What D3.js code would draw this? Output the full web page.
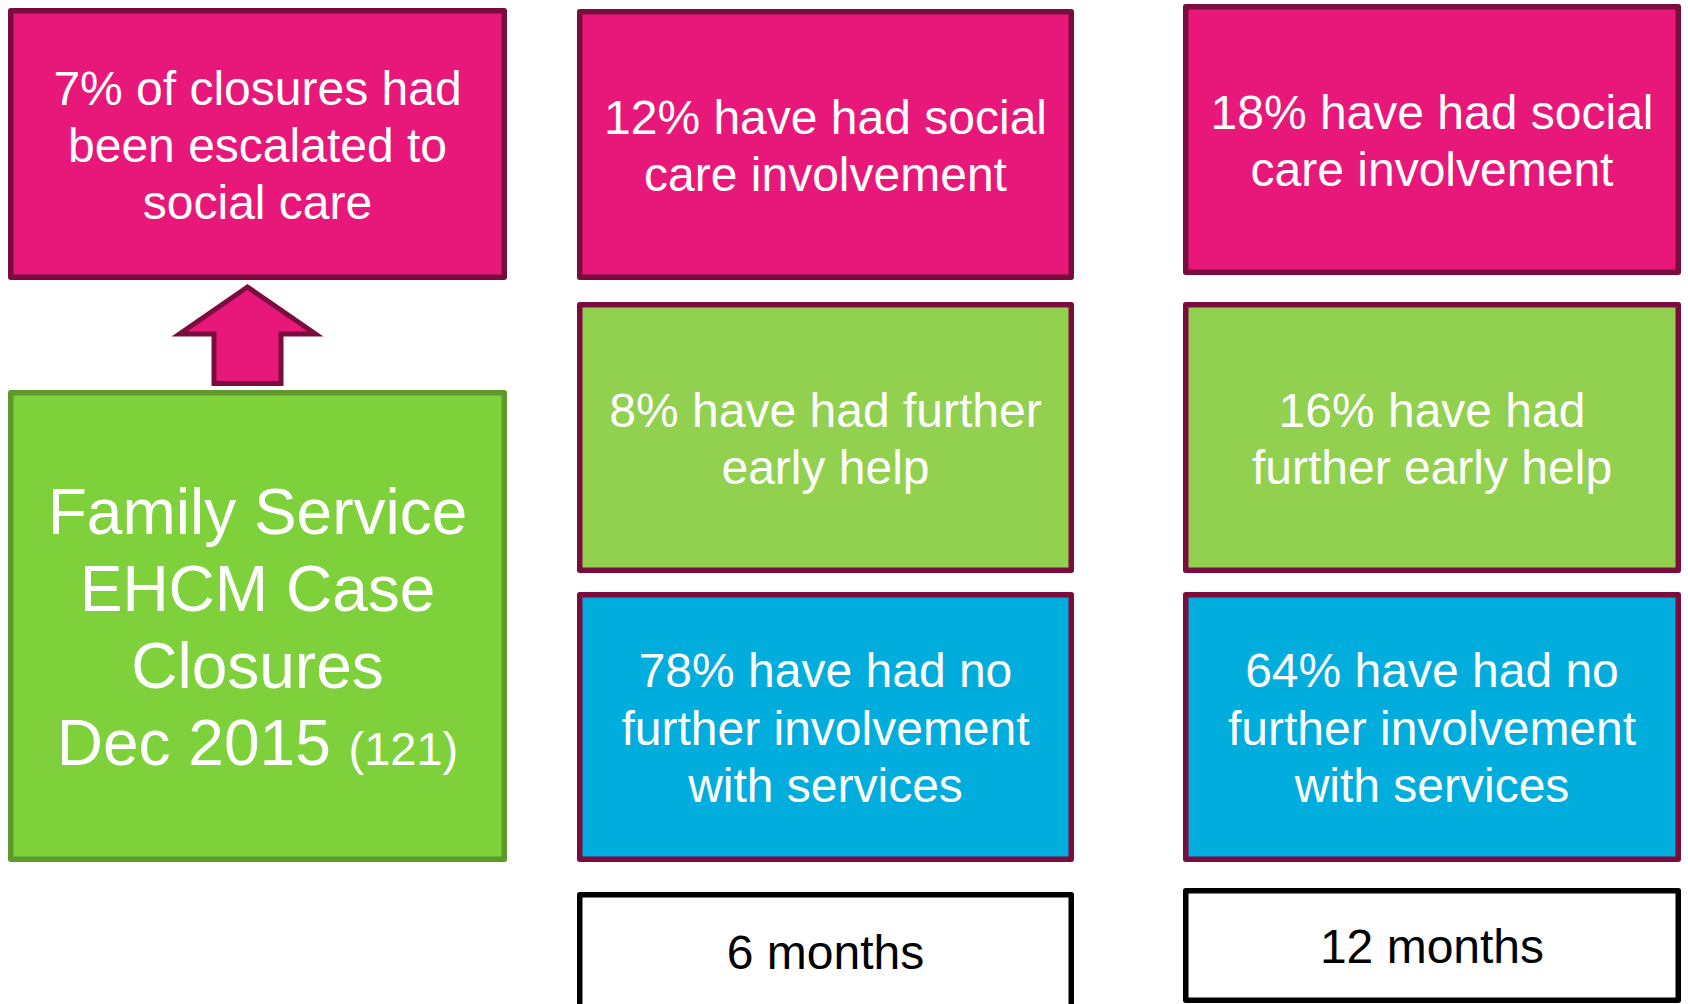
<!DOCTYPE html>
<html>
<head>
<meta charset="utf-8">
<script src="https://cdn.jsdelivr.net/npm/d3@7"></script>
<style>
  html, body { margin: 0; padding: 0; background: #fff; }
  svg { display: block; }
  text { font-family: "Liberation Sans", Arial, sans-serif; }
</style>
</head>
<body>
<svg id="chart" width="1688" height="1004"></svg>
<script>
// ---- data ----
const columns = ["Dec 2015", "6 months", "12 months"];
const socialCarePct = [7, 12, 18];
const earlyHelpPct = [null, 8, 16];
const noFurtherPct = [null, 78, 64];
const caseCount = 121;
const sourceLines = ["Family Service", "EHCM Case", "Closures", "Dec 2015"];
const escalatedLines = ["% of closures had", "been escalated to", "social care"];
const socialLines6 = ["% have had social", "care involvement"];
const socialLines12 = ["% have had social", "care involvement"];
const earlyLines6 = ["% have had further", "early help"];
const earlyLines12 = ["% have had", "further early help"];
const noFurtherLines = ["% have had no", "further involvement", "with services"];
const periodLabels = ["6 months", "12 months"];

// ---- scales (layout) ----
const colLeft = d3.scaleOrdinal().domain(columns).range([8, 577, 1183]);
const colRight = d3.scaleOrdinal().domain(columns).range([507, 1074, 1681]);
const rows = ["social", "early", "none", "period"];
const rowTop6 = d3.scaleOrdinal().domain(rows).range([9, 302, 592, 892]);
const rowBot6 = d3.scaleOrdinal().domain(rows).range([280, 573, 862, 1010]);
const rowTop12 = d3.scaleOrdinal().domain(rows).range([4, 302, 592, 888]);
const rowBot12 = d3.scaleOrdinal().domain(rows).range([275, 573, 862, 1003]);

const PINK = "#E8187A", MAROON = "#7A0C3E";
const GREEN_L = "#7FD13B", GREEN_L_B = "#5E9A2B";
const GREEN = "#92D050", BLUE = "#00ADDC";
const SW = 5.5;

const svg = d3.select("#chart");

function box(x0, y0, x1, y1, fill, stroke) {
  svg.append("rect")
    .attr("x", x0 + SW / 2).attr("y", y0 + SW / 2)
    .attr("width", x1 - x0 - SW).attr("height", y1 - y0 - SW)
    .attr("fill", fill).attr("stroke", stroke).attr("stroke-width", SW)
    .attr("stroke-linejoin", "round");
}
function label(lines, x0, x1, y0, y1, fs, lh, color) {
  const cx = (x0 + x1) / 2, cy = (y0 + y1) / 2;
  const n = lines.length;
  const t = svg.append("text").attr("text-anchor", "middle")
    .attr("fill", color).attr("font-size", fs);
  lines.forEach((l, i) => {
    const tsp = t.append("tspan").attr("x", cx)
      .attr("y", cy + (i - (n - 1) / 2) * lh + 0.37 * fs);
    if (typeof l === "string") tsp.text(l);
    else l(tsp);
  });
  return t;
}

// ---- left column ----
const c0 = columns[0];
const lx0 = colLeft(c0), lx1 = colRight(c0);
box(lx0, 8, lx1, 280, PINK, MAROON);
label([socialCarePct[0] + escalatedLines[0], escalatedLines[1], escalatedLines[2]],
  lx0, lx1, 8, 280, 48, 57, "#fff");

// arrow
const acx = (lx0 + lx1) / 2 - 10;
const arrow = d3.path();
arrow.moveTo(acx, 287);
arrow.lineTo(acx + 68, 334);
arrow.lineTo(acx + 33.5, 334);
arrow.lineTo(acx + 33.5, 383.5);
arrow.lineTo(acx - 33.5, 383.5);
arrow.lineTo(acx - 33.5, 334);
arrow.lineTo(acx - 68, 334);
arrow.closePath();
svg.append("path").attr("d", arrow.toString())
  .attr("fill", PINK).attr("stroke", MAROON).attr("stroke-width", 5);

box(lx0, 390, lx1, 862, GREEN_L, GREEN_L_B);
label([sourceLines[0], sourceLines[1], sourceLines[2], tsp => {
  tsp.text(sourceLines[3] + " ");
  tsp.append("tspan").attr("font-size", 47).text("(" + caseCount + ")");
}], lx0, lx1, 390, 862, 64, 77, "#fff");

// ---- 6 / 12 month columns ----
[1, 2].forEach(ci => {
  const c = columns[ci];
  const x0 = colLeft(c), x1 = colRight(c);
  const top = ci === 1 ? rowTop6 : rowTop12;
  const bot = ci === 1 ? rowBot6 : rowBot12;
  const sL = ci === 1 ? socialLines6 : socialLines12;
  const eL = ci === 1 ? earlyLines6 : earlyLines12;

  box(x0, top("social"), x1, bot("social"), PINK, MAROON);
  label([socialCarePct[ci] + sL[0], sL[1]], x0, x1, top("social"), bot("social"), 48, 57.5, "#fff");

  box(x0, top("early"), x1, bot("early"), GREEN, MAROON);
  label([earlyHelpPct[ci] + eL[0], eL[1]], x0, x1, top("early"), bot("early"), 48, 57.5, "#fff");

  box(x0, top("none"), x1, bot("none"), BLUE, MAROON);
  label([noFurtherPct[ci] + noFurtherLines[0], noFurtherLines[1], noFurtherLines[2]],
    x0, x1, top("none"), bot("none"), 48, 57.5, "#fff");

  box(x0, top("period"), x1, bot("period"), "#fff", "#000");
  label([periodLabels[ci - 1]], x0, x1, top("period"), bot("period"), 48, 57, "#000");
});
</script>
</body>
</html>
